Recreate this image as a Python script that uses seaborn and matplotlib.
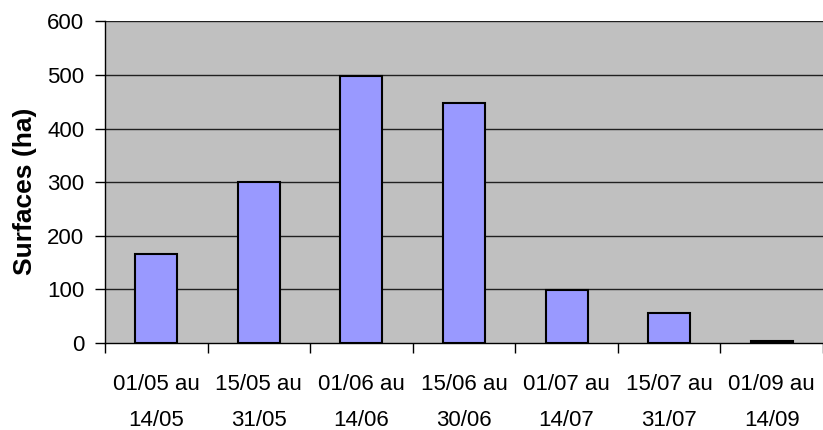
import matplotlib
matplotlib.use('Agg')
import numpy as np
import pandas as pd
import seaborn as sns
import matplotlib.pyplot as plt

periods = ['01/05 au\n14/05', '15/05 au\n31/05', '01/06 au\n14/06', '15/06 au\n30/06',
           '01/07 au\n14/07', '15/07 au\n31/07', '01/09 au\n14/09']
surfaces = [166, 300, 498, 447, 99, 56, 4]

df = pd.DataFrame({'periode': periods, 'surface': surfaces})

sns.set_style('white')
plt.rcParams['font.family'] = ['Liberation Sans', 'DejaVu Sans']
plt.rcParams['text.color'] = 'black'
plt.rcParams['xtick.color'] = 'black'
plt.rcParams['ytick.color'] = 'black'
plt.rcParams['axes.labelcolor'] = 'black'

fig = plt.figure(figsize=(8.23, 4.30), dpi=100)
ax = fig.add_axes([0.1276, 0.2023, 0.8724, 0.7477])
ax.set_facecolor('#C0C0C0')

sns.barplot(data=df, x='periode', y='surface', color='#9999FF', saturation=1,
            edgecolor='black', linewidth=1.5, width=0.41, ax=ax, zorder=3)

ax.set_ylim(0, 600)
ax.set_xlim(-0.5, len(periods) - 0.5)
ax.set_yticks(np.arange(0, 601, 100))
for yv in range(100, 601, 100):
    ax.axhline(yv, color='#202020', linewidth=1, zorder=1)

ax.tick_params(axis='y', labelsize=16, length=7, width=1, color='black', labelcolor='black',
               direction='out', left=True, pad=8)
ax.tick_params(axis='x', which='major', labelsize=16, length=0, pad=22, labelcolor='black')
ax.set_xticks(np.arange(-0.5, len(periods) + 0.5, 1), minor=True)
ax.tick_params(axis='x', which='minor', length=7, width=1, color='black', direction='out', bottom=True)
for lbl in ax.get_xticklabels():
    lbl.set_linespacing(1.95)

ax.set_xlabel('')
ax.set_ylabel('Surfaces (ha)', fontsize=19, fontweight='bold', color='black')
ax.yaxis.set_label_coords(-0.095, 0.473)

for side in ['top', 'right']:
    ax.spines[side].set_visible(False)
for side in ['left', 'bottom']:
    ax.spines[side].set_color('black')
    ax.spines[side].set_linewidth(1)

fig.savefig('out.png', dpi=100)
